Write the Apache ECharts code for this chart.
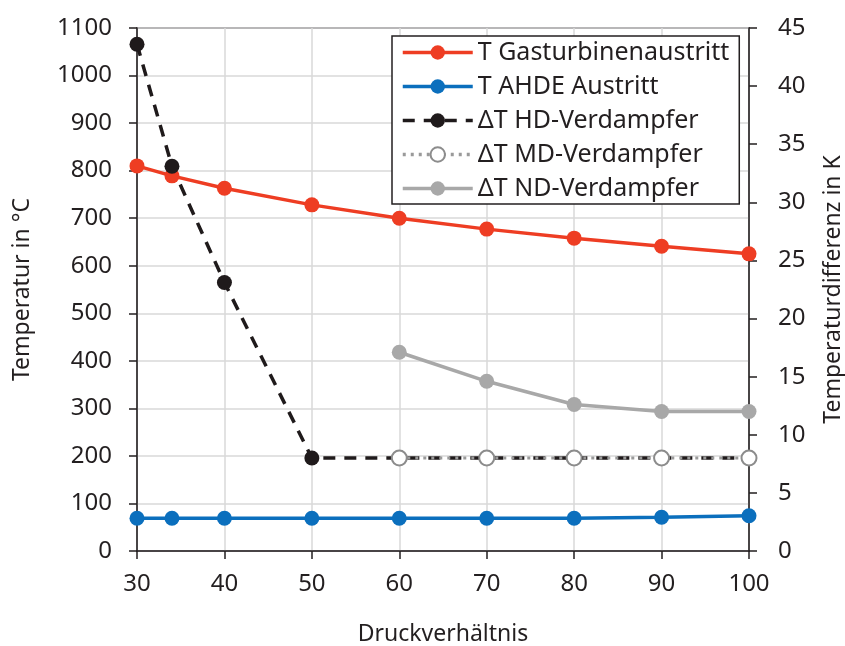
<!DOCTYPE html>
<html>
<head>
<meta charset="utf-8">
<script src="https://cdn.jsdelivr.net/npm/echarts@6/dist/echarts.min.js"></script>
<style>
  html, body { margin: 0; padding: 0; background: #fff; }
  #chart { width: 845px; height: 646px; }
</style>
</head>
<body>
<div id="chart"></div>
<script>
(function() {
  // Druckverhältnis values (x positions)
  var xAll = [30, 34, 40, 50, 60, 70, 80, 90, 100];
  var xLow = [60, 70, 80, 90, 100];

  // temperatures in °C (left axis)
  var tGasturbine = [810, 789, 763, 728, 700, 677, 658, 641, 625];
  var tAhde = [69, 69, 69, 69, 69, 69, 69, 71, 74];

  // temperature differences in K (right axis)
  var dtHd = [43.6, 33.1, 23.1, 8.0, 8.0, 8.0, 8.0, 8.0, 8.0];
  var dtMd = [8.0, 8.0, 8.0, 8.0, 8.0];
  var dtNd = [17.1, 14.6, 12.6, 12.0, 12.0];

  function pairs(xs, ys) {
    return xs.map(function(x, i) { return [x, ys[i]]; });
  }
  function plain(v) { return String(v); }

  var font = 'Noto Sans';
  var ink = '#231f20';
  var grid = '#d9d9d9';
  var fs = 24;

  var chart = echarts.init(document.getElementById('chart'), null, { renderer: 'canvas' });
  chart.setOption({
    animation: false,
    textStyle: { fontFamily: font, color: ink },
    grid: {
      left: 137, right: 96, top: 28, bottom: 95,
      outerBoundsMode: 'none', containLabel: false,
      show: true, borderColor: ink, borderWidth: 1.5
    },
    legend: {
      left: 392, top: 36, width: 348,
      orient: 'vertical',
      backgroundColor: '#fff',
      borderColor: ink, borderWidth: 1.5, borderRadius: 0,
      padding: [4, 10, 3, 9],
      itemWidth: 70, itemHeight: 18, itemGap: 9,
      lineStyle: { width: 3.5 },
      textStyle: { fontFamily: font, fontSize: 25, color: ink },
      data: ['T Gasturbinenaustritt', 'T AHDE Austritt', 'ΔT HD-Verdampfer', 'ΔT MD-Verdampfer', 'ΔT ND-Verdampfer']
    },
    xAxis: {
      type: 'value', min: 30, max: 100, interval: 10,
      name: 'Druckverhältnis', nameLocation: 'middle', nameGap: 72,
      nameTextStyle: { fontSize: fs - 1, color: ink },
      axisLine: { lineStyle: { color: ink, width: 1.5 } },
      axisTick: { show: true, inside: false, length: 8, lineStyle: { color: ink, width: 1.5 } },
      axisLabel: { fontSize: fs, color: ink, margin: 21, formatter: plain },
      splitLine: { show: true, lineStyle: { color: grid, width: 1.5 } }
    },
    yAxis: [{
      type: 'value', min: 0, max: 1100, interval: 100,
      name: 'Temperatur in °C', nameLocation: 'middle', nameGap: 103, nameRotate: 90,
      nameTextStyle: { fontSize: fs - 1, color: ink },
      axisLine: { show: true, lineStyle: { color: ink, width: 1.5 } },
      axisTick: { show: true, length: 8, lineStyle: { color: ink, width: 1.5 } },
      axisLabel: { fontSize: fs, color: ink, margin: 25, formatter: plain },
      splitLine: { show: true, lineStyle: { color: grid, width: 1.5 } }
    }, {
      type: 'value', min: 0, max: 45, interval: 5, position: 'right',
      name: 'Temperaturdifferenz in K', nameLocation: 'middle', nameGap: 73, nameRotate: 90,
      nameTextStyle: { fontSize: fs - 1, color: ink },
      axisLine: { show: true, lineStyle: { color: ink, width: 1.5 } },
      axisTick: { show: true, length: 8, lineStyle: { color: ink, width: 1.5 } },
      axisLabel: { fontSize: fs, color: ink, margin: 29, formatter: plain },
      splitLine: { show: false }
    }],
    series: [{
      name: 'T Gasturbinenaustritt', type: 'line', yAxisIndex: 0,
      data: pairs(xAll, tGasturbine),
      symbol: 'circle', symbolSize: 15,
      itemStyle: { color: '#ee3d23' },
      lineStyle: { color: '#ee3d23', width: 3.5 }
    }, {
      name: 'T AHDE Austritt', type: 'line', yAxisIndex: 0,
      data: pairs(xAll, tAhde),
      symbol: 'circle', symbolSize: 15,
      itemStyle: { color: '#0b6fbd' },
      lineStyle: { color: '#0b6fbd', width: 3.5 }
    }, {
      name: 'ΔT HD-Verdampfer', type: 'line', yAxisIndex: 1,
      data: pairs(xAll, dtHd),
      symbol: 'circle', symbolSize: 15,
      itemStyle: { color: '#1f1a1b' },
      lineStyle: { color: '#1f1a1b', width: 3.5, type: [12, 9] }
    }, {
      name: 'ΔT MD-Verdampfer', type: 'line', yAxisIndex: 1,
      data: pairs(xLow, dtMd),
      symbol: 'circle', symbolSize: 15,
      itemStyle: { color: '#fff', borderColor: '#8c8c8c', borderWidth: 2 },
      lineStyle: { color: '#9a9a9a', width: 3, type: [3, 5] }
    }, {
      name: 'ΔT ND-Verdampfer', type: 'line', yAxisIndex: 1,
      data: pairs(xLow, dtNd),
      symbol: 'circle', symbolSize: 15,
      itemStyle: { color: '#a8a8a8' },
      lineStyle: { color: '#a8a8a8', width: 3.5 }
    }]
  });
  window.addEventListener('resize', function() { chart.resize(); });
})();
</script>
</body>
</html>
